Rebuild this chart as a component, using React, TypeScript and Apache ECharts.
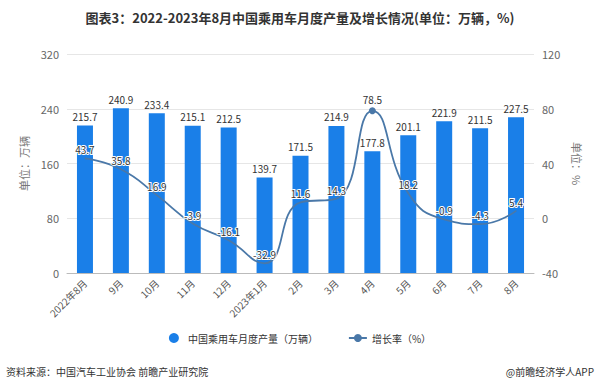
import React, { useEffect, useRef } from "react";
import * as echarts from "echarts";

const categories = ["2022年8月", "9月", "10月", "11月", "12月", "2023年1月", "2月", "3月", "4月", "5月", "6月", "7月", "8月"];
const production = [215.7, 240.9, 233.4, 215.1, 212.5, 139.7, 171.5, 214.9, 177.8, 201.1, 221.9, 211.5, 227.5];
const growth = [43.7, 35.8, 16.9, -3.9, -16.1, -32.9, 11.6, 14.3, 78.5, 18.2, -0.9, -4.3, 5.4];

const FONT = "'Noto Sans CJK SC', 'Noto Sans', sans-serif";

export default function App() {
  const ref = useRef<HTMLDivElement>(null);
  useEffect(() => {
    if (!ref.current) return;
    const chart = echarts.init(ref.current, null, { renderer: "svg" });
    chart.setOption({
      animation: false,
      textStyle: { fontFamily: FONT },
      title: {
        text: "图表3：2022-2023年8月中国乘用车月度产量及增长情况(单位：万辆，%)",
        left: "center",
        top: 6,
        textStyle: { fontSize: 13, fontWeight: "bold", color: "#333", fontFamily: FONT },
      },
      legend: {
        bottom: 42,
        itemGap: 30,
        textStyle: { fontSize: 10, color: "#333" },
        data: [
          { name: "中国乘用车月度产量（万辆）", icon: "circle" },
          { name: "增长率（%）" },
        ],
        itemWidth: 18,
        itemHeight: 10,
      },
      grid: { left: 67, right: 66, top: 54, bottom: 117 },
      xAxis: {
        type: "category",
        data: categories,
        axisLine: { lineStyle: { color: "#bbb" } },
        axisTick: { show: false },
        axisLabel: { rotate: 45, fontSize: 10, color: "#555", interval: 0, margin: 8 },
      },
      yAxis: [
        {
          type: "value",
          min: 0,
          max: 320,
          interval: 80,
          name: "单位：万辆",
          nameLocation: "middle",
          nameRotate: 90,
          nameGap: 38,
          nameTextStyle: { fontSize: 11, color: "#777" },
          axisLabel: { fontSize: 11, color: "#666" },
          splitLine: { lineStyle: { color: "#e6e6e6" } },
          axisLine: { show: false },
          axisTick: { show: false },
        },
        {
          type: "value",
          min: -40,
          max: 120,
          interval: 40,
          name: "单位：%",
          nameLocation: "middle",
          nameRotate: -90,
          nameGap: 36,
          nameTextStyle: { fontSize: 11, color: "#777" },
          axisLabel: { fontSize: 11, color: "#666" },
          splitLine: { show: false },
          axisLine: { show: false },
          axisTick: { show: false },
        },
      ],
      series: [
        {
          name: "中国乘用车月度产量（万辆）",
          type: "bar",
          data: production,
          barWidth: 16,
          itemStyle: { color: "#1a7fe8" },
          label: { show: true, position: "top", fontSize: 10, color: "#333", distance: 4 },
        },
        {
          name: "增长率（%）",
          type: "line",
          yAxisIndex: 1,
          smooth: true,
          data: growth.map((v, i) => (i === 8 ? { value: v, symbolSize: 7 } : v)),
          symbol: "circle",
          symbolSize: 1,
          showAllSymbol: true,
          lineStyle: { color: "#4a78a8", width: 1.8 },
          itemStyle: { color: "#4a78a8" },
          label: {
            show: true,
            position: "top",
            distance: 3,
            fontSize: 10,
            color: "#333",
            textBorderColor: "#fff",
            textBorderWidth: 2,
          },
        },
      ],
      graphic: [
        {
          type: "text",
          left: 6,
          top: 366,
          style: { text: "资料来源：中国汽车工业协会 前瞻产业研究院", fontSize: 10, fill: "#333", fontFamily: FONT },
        },
        {
          type: "text",
          right: 6,
          top: 366,
          style: { text: "@前瞻经济学人APP", fontSize: 10, fill: "#333", fontFamily: FONT },
        },
      ],
    });
    return () => chart.dispose();
  }, []);
  return <div ref={ref} style={{ width: 600, height: 390, position: "absolute", left: 0, top: 0 }} />;
}
